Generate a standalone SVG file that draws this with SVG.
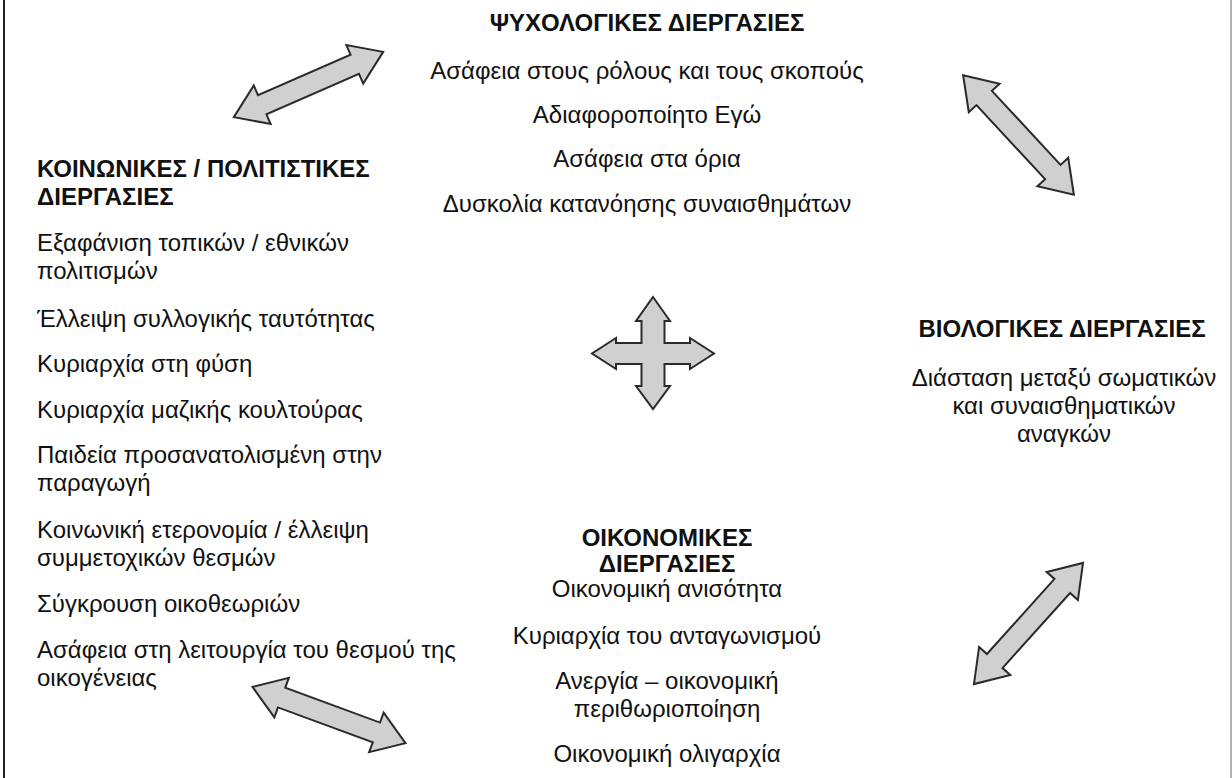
<svg xmlns="http://www.w3.org/2000/svg" width="1232" height="778" viewBox="0 0 1232 778">
<style>
text{font-family:"Liberation Sans",Arial,sans-serif;font-size:24px;fill:#111}
.h{font-weight:bold}
.c{text-anchor:middle}
.arr{fill:#d0d0d0;stroke:#2a2a2a;stroke-width:2;stroke-linejoin:miter}
</style>
<defs>
<path id="dbl" d="M-81.5,0 L-50.5,-21 L-50.5,-10.5 L50.5,-10.5 L50.5,-21 L81.5,0 L50.5,21 L50.5,10.5 L-50.5,10.5 L-50.5,21 Z"/>
</defs>
<rect x="0" y="0" width="1232" height="778" fill="#fff"/>
<line x1="4" y1="0" x2="4" y2="778" stroke="#222" stroke-width="2"/>
<line x1="1231" y1="0" x2="1231" y2="778" stroke="#999" stroke-width="1.5"/>

<g id="connectors">
<use href="#dbl" class="arr" transform="translate(308.5,84.5) rotate(-23.6)"/>
<use href="#dbl" class="arr" transform="translate(1018.5,135) rotate(47.2)"/>
<use href="#dbl" class="arr" transform="translate(1028.5,623.5) rotate(-48)"/>
<use href="#dbl" class="arr" transform="translate(329,715) rotate(20.2)"/>
<path class="arr" d="M653,297 L670,321 L664.5,321 L664.5,343 L690,343 L690,338 L714,353.5 L690,369 L690,364 L664.5,364 L664.5,386 L670,386 L653,409 L636,386 L641.5,386 L641.5,364 L616,364 L616,369 L592,353.5 L616,338 L616,343 L641.5,343 L641.5,321 L636,321 Z"/>
</g>

<g id="psychological">
<text class="h c" x="647" y="31">ΨΥΧΟΛΟΓΙΚΕΣ ΔΙΕΡΓΑΣΙΕΣ</text>
<text class="c" x="647" y="79">Ασάφεια στους ρόλους και τους σκοπούς</text>
<text class="c" x="647" y="123">Αδιαφοροποίητο Εγώ</text>
<text class="c" x="647" y="167">Ασάφεια στα όρια</text>
<text class="c" x="647" y="212">Δυσκολία κατανόησης συναισθημάτων</text>
</g>

<g id="social">
<text class="h" x="37" y="177">ΚΟΙΝΩΝΙΚΕΣ / ΠΟΛΙΤΙΣΤΙΚΕΣ</text>
<text class="h" x="37" y="205">ΔΙΕΡΓΑΣΙΕΣ</text>
<text x="37" y="251">Εξαφάνιση τοπικών / εθνικών</text>
<text x="37" y="279">πολιτισμών</text>
<text x="37" y="327">Έλλειψη συλλογικής ταυτότητας</text>
<text x="37" y="372">Κυριαρχία στη φύση</text>
<text x="37" y="418">Κυριαρχία μαζικής κουλτούρας</text>
<text x="37" y="463">Παιδεία προσανατολισμένη στην</text>
<text x="37" y="491">παραγωγή</text>
<text x="37" y="538">Κοινωνική ετερονομία / έλλειψη</text>
<text x="37" y="566">συμμετοχικών θεσμών</text>
<text x="37" y="612">Σύγκρουση οικοθεωριών</text>
<text x="37" y="658">Ασάφεια στη λειτουργία του θεσμού της</text>
<text x="37" y="686">οικογένειας</text>
</g>

<g id="biological">
<text class="h c" x="1062" y="337">ΒΙΟΛΟΓΙΚΕΣ ΔΙΕΡΓΑΣΙΕΣ</text>
<text class="c" x="1064" y="386">Διάσταση μεταξύ σωματικών</text>
<text class="c" x="1064" y="414">και συναισθηματικών</text>
<text class="c" x="1064" y="442">αναγκών</text>
</g>

<g id="economic">
<text class="h c" x="667" y="546">ΟΙΚΟΝΟΜΙΚΕΣ</text>
<text class="h c" x="667" y="572">ΔΙΕΡΓΑΣΙΕΣ</text>
<text class="c" x="667" y="597">Οικονομική ανισότητα</text>
<text class="c" x="667" y="644">Κυριαρχία του ανταγωνισμού</text>
<text class="c" x="667" y="689">Ανεργία – οικονομική</text>
<text class="c" x="667" y="717">περιθωριοποίηση</text>
<text class="c" x="667" y="762">Οικονομική ολιγαρχία</text>
</g>
</svg>
